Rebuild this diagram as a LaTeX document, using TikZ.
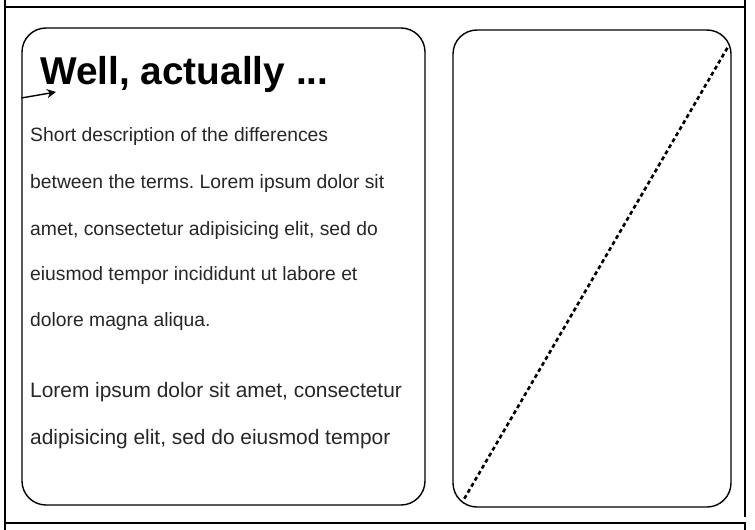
\documentclass[tikz,border=0pt]{standalone}
\usepackage{fontspec}
\setmainfont{Liberation Sans}
\frenchspacing
\usepackage{tikz}
\usetikzlibrary{arrows.meta,positioning,calc}
\tikzset{
panel/.style = {draw, line width=1.4pt, rounded corners=24pt, inner sep=0pt},
frameline/.style = {line width=1.3pt},
heading/.style = {anchor=base west, inner sep=0pt, font=\fontsize{38.8}{40}\selectfont\bfseries},
bodyline/.style = {anchor=base west, inner sep=0pt, text=black!85, font=\fontsize{19.3}{22}\selectfont},
bodylarge/.style = {anchor=base west, inner sep=0pt, text=black!85, font=\fontsize{20.9}{24}\selectfont},
diag/.style = {line width=2.6pt, dash pattern=on 4pt off 3pt}
}
\begin{document}
\begin{tikzpicture}[x=1pt, y=-1pt, >={Stealth[length=9pt,width=9pt]}]
    \useasboundingbox (0,0) rectangle (755,530);
    % outer frame
    \draw [frameline] (5,0) -- (5,530);
    \draw [frameline] (5,7) -- (745,7);
    \draw [frameline] (745,0) -- (745,517);
    \draw [frameline] (5,523) -- (745,523) -- (745,530);
    % panels
    \node [panel, minimum width=403pt, minimum height=477pt] (textbox) at (223.5,266.5) {};
    \node [panel, minimum width=278pt, minimum height=477pt] (imgbox) at (592,268.5) {};
    % text
    \node [heading] (title) at (40,84) {Well, actually ...};
    \node [bodyline] (l1) at (30,141) {Short description of the differences};
    \node [bodyline] (l2) at (30,188) {between the terms. Lorem ipsum dolor sit};
    \node [bodyline] (l3) at (30,235) {amet, consectetur adipisicing elit, sed do};
    \node [bodyline] (l4) at (30,280) {eiusmod tempor incididunt ut labore et};
    \node [bodyline] (l5) at (30,326) {dolore magna aliqua.};
    \node [bodylarge] (l6) at (30,397) {Lorem ipsum dolor sit amet, consectetur};
    \node [bodylarge] (l7) at (30,444) {adipisicing elit, sed do eiusmod tempor};
    % small arrow onto the heading
    \coordinate (astart) at (textbox.west |- 0,98);
    \coordinate (aend) at ($(title.base west)+(16,8)$);
    \draw [->, line width=1.4pt] (astart) -- (aend);
    % placeholder diagonal
    \draw [diag] ($(imgbox.south west)+(12,-9)$) -- ($(imgbox.north east)+(-4,18)$);
\end{tikzpicture}
\end{document}
